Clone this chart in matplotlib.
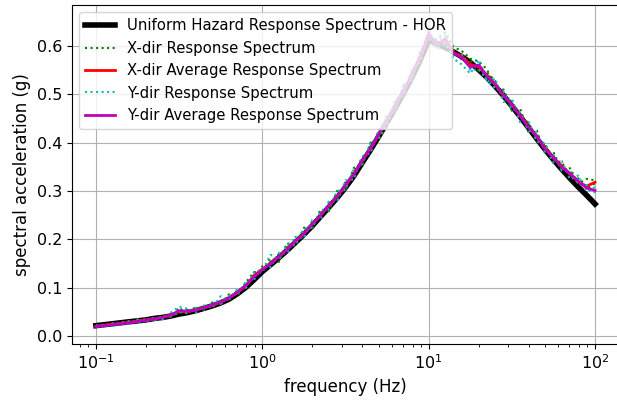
import matplotlib
matplotlib.use('Agg')
import matplotlib.pyplot as plt

# frequencies (Hz)
freq = [0.100, 0.112, 0.126, 0.141, 0.158, 0.178, 0.200, 0.224, 0.251, 0.282,
        0.316, 0.355, 0.398, 0.447, 0.501, 0.562, 0.631, 0.708, 0.794, 0.891,
        1.00, 1.12, 1.26, 1.41, 1.58, 1.78, 2.00, 2.24, 2.51, 2.82,
        3.16, 3.55, 3.98, 4.47, 5.01, 5.62, 6.31, 7.08, 7.94, 8.91,
        10.0, 11.2, 12.6, 14.1, 15.8, 17.8, 20.0, 22.4, 25.1, 28.2,
        31.6, 35.5, 39.8, 44.7, 50.1, 56.2, 63.1, 70.8, 79.4, 89.1, 100.0]

# uniform hazard response spectrum (g)
uhrs = [0.021, 0.023, 0.025, 0.027, 0.029, 0.031, 0.033, 0.036, 0.038, 0.041,
        0.045, 0.048, 0.052, 0.057, 0.062, 0.068, 0.076, 0.087, 0.100, 0.116,
        0.133, 0.147, 0.162, 0.177, 0.193, 0.210, 0.228, 0.247, 0.266, 0.286,
        0.307, 0.331, 0.358, 0.385, 0.413, 0.442, 0.472, 0.503, 0.535, 0.572,
        0.612, 0.605, 0.597, 0.588, 0.578, 0.566, 0.551, 0.535, 0.517, 0.497,
        0.476, 0.454, 0.431, 0.408, 0.386, 0.365, 0.345, 0.326, 0.308, 0.291, 0.273]

# X-dir response spectra (two records)
x_dir1 = [0.023, 0.019, 0.027, 0.023, 0.031, 0.028, 0.036, 0.032, 0.042, 0.039,
          0.058, 0.045, 0.060, 0.053, 0.069, 0.064, 0.086, 0.083, 0.110, 0.132,
          0.130, 0.160, 0.153, 0.192, 0.186, 0.224, 0.220, 0.262, 0.258, 0.300,
          0.300, 0.348, 0.352, 0.400, 0.405, 0.458, 0.465, 0.520, 0.530, 0.590,
          0.612, 0.615, 0.628, 0.598, 0.590, 0.574, 0.568, 0.552, 0.510, 0.510,
          0.466, 0.470, 0.421, 0.425, 0.378, 0.381, 0.342, 0.347, 0.315, 0.325, 0.322]
x_dir2 = [0.019, 0.024, 0.022, 0.028, 0.026, 0.033, 0.031, 0.037, 0.036, 0.045,
          0.047, 0.054, 0.051, 0.061, 0.060, 0.073, 0.075, 0.094, 0.099, 0.121,
          0.144, 0.146, 0.170, 0.175, 0.202, 0.206, 0.238, 0.244, 0.276, 0.282,
          0.318, 0.330, 0.370, 0.382, 0.425, 0.440, 0.485, 0.500, 0.548, 0.570,
          0.630, 0.598, 0.605, 0.592, 0.572, 0.570, 0.548, 0.546, 0.528, 0.490,
          0.486, 0.450, 0.442, 0.405, 0.398, 0.362, 0.360, 0.330, 0.326, 0.304, 0.316]

# X-dir average
x_avg = [0.020, 0.022, 0.024, 0.026, 0.028, 0.031, 0.033, 0.035, 0.038, 0.042,
         0.050, 0.050, 0.054, 0.058, 0.063, 0.069, 0.079, 0.089, 0.103, 0.125,
         0.138, 0.150, 0.163, 0.180, 0.195, 0.212, 0.231, 0.250, 0.268, 0.289,
         0.310, 0.336, 0.362, 0.388, 0.416, 0.445, 0.476, 0.507, 0.540, 0.577,
         0.622, 0.603, 0.612, 0.586, 0.580, 0.562, 0.556, 0.540, 0.520, 0.498,
         0.478, 0.457, 0.433, 0.412, 0.389, 0.368, 0.352, 0.335, 0.318, 0.310, 0.318]

# Y-dir response spectra (two records)
y_dir1 = [0.017, 0.024, 0.020, 0.029, 0.024, 0.034, 0.028, 0.039, 0.034, 0.048,
          0.060, 0.056, 0.048, 0.063, 0.058, 0.082, 0.074, 0.097, 0.098, 0.132,
          0.135, 0.168, 0.158, 0.190, 0.188, 0.222, 0.224, 0.258, 0.262, 0.300,
          0.302, 0.346, 0.355, 0.398, 0.410, 0.434, 0.490, 0.498, 0.555, 0.568,
          0.635, 0.592, 0.604, 0.574, 0.562, 0.543, 0.572, 0.526, 0.533, 0.484,
          0.492, 0.442, 0.445, 0.402, 0.398, 0.356, 0.362, 0.324, 0.332, 0.298, 0.308]
y_dir2 = [0.021, 0.019, 0.025, 0.023, 0.030, 0.027, 0.035, 0.032, 0.041, 0.040,
          0.049, 0.047, 0.058, 0.055, 0.068, 0.066, 0.083, 0.086, 0.111, 0.116,
          0.142, 0.142, 0.172, 0.170, 0.205, 0.202, 0.240, 0.242, 0.278, 0.278,
          0.322, 0.324, 0.372, 0.378, 0.428, 0.452, 0.468, 0.520, 0.530, 0.588,
          0.618, 0.610, 0.622, 0.578, 0.585, 0.550, 0.552, 0.530, 0.512, 0.506,
          0.470, 0.462, 0.424, 0.422, 0.380, 0.376, 0.342, 0.342, 0.314, 0.312, 0.296]

# Y-dir average
y_avg = [0.019, 0.021, 0.023, 0.025, 0.027, 0.030, 0.032, 0.035, 0.038, 0.043,
         0.052, 0.051, 0.053, 0.058, 0.064, 0.070, 0.078, 0.090, 0.104, 0.122,
         0.137, 0.149, 0.164, 0.178, 0.196, 0.211, 0.232, 0.249, 0.270, 0.288,
         0.312, 0.334, 0.363, 0.387, 0.418, 0.446, 0.478, 0.508, 0.541, 0.578,
         0.626, 0.602, 0.616, 0.585, 0.576, 0.556, 0.561, 0.538, 0.521, 0.497,
         0.479, 0.455, 0.432, 0.414, 0.386, 0.370, 0.349, 0.336, 0.320, 0.306, 0.301]


fig = plt.figure(figsize=(6.17, 4.05), dpi=100)
ax = fig.add_axes([0.1167, 0.1506, 0.8865, 0.837])

ax.semilogx(freq, uhrs, color='k', lw=4, label='Uniform Hazard Response Spectrum - HOR')
ax.semilogx(freq, x_dir1, color='g', ls=':', lw=1.5, label='X-dir Response Spectrum')
ax.semilogx(freq, x_dir2, color='g', ls=':', lw=1.5)
ax.semilogx(freq, x_avg, color='r', lw=2, label='X-dir Average Response Spectrum')
ax.semilogx(freq, y_dir1, color='c', ls=':', lw=1.5, label='Y-dir Response Spectrum')
ax.semilogx(freq, y_dir2, color='c', ls=':', lw=1.5)
ax.semilogx(freq, y_avg, color='m', lw=2, label='Y-dir Average Response Spectrum')

ax.set_xlim(10 ** -1.144, 10 ** 2.144)
ax.set_ylim(-0.017, 0.685)
ax.spines['right'].set_visible(False)
ax.grid(True, which='major', color='#b0b0b0', lw=0.8)
ax.tick_params(labelsize=11.5)
ax.set_xlabel('frequency (Hz)', fontsize=12)
ax.set_ylabel('spectral acceleration (g)', fontsize=12)
ax.legend(loc='upper left', fontsize=10.7)

fig.savefig('out.png', dpi=100)
